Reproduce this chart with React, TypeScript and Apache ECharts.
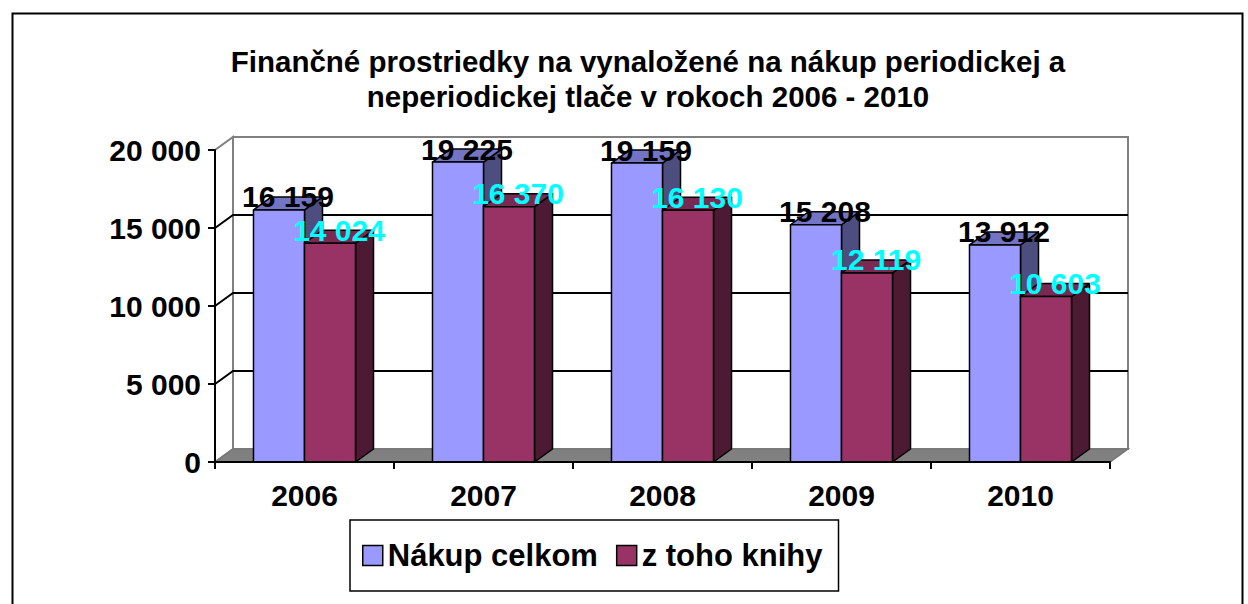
import React, { useEffect, useRef } from "react";
import * as echarts from "echarts";

const categories = ["2006", "2007", "2008", "2009", "2010"];
const nakupCelkom = [16159, 19225, 19159, 15208, 13912];
const zTohoKnihy = [14024, 16370, 16130, 12119, 10603];
const yTicks = [0, 5000, 10000, 15000, 20000];
const seriesNames = ["Nákup celkom", "z toho knihy"];

const FONT = "'Liberation Sans', Arial, sans-serif";
const DX = 18;
const DY = -13;
const BAR_RATIO = 0.285;

const fmt = (n: number) => String(n).replace(/\B(?=(\d{3})+(?!\d))/g, " ");

const palettes = [
  { front: "#9999FF", top: "#7474C4", side: "#4D4D80", label: "#000000" },
  { front: "#993366", top: "#7A2952", side: "#4C1A33", label: "#00FFFF" },
];

function barRender(idx: number) {
  return (params: any, api: any) => {
    const cat = api.value(0);
    const v = api.value(1);
    const [cx, yTop] = api.coord([cat, v]);
    const y0 = api.coord([cat, 0])[1];
    const bw = api.size([1, 0])[0] * BAR_RATIO;
    const x0 = idx === 0 ? cx - bw : cx;
    const x1 = x0 + bw;
    const p = palettes[idx];
    const st = (fill: string) => ({ fill, stroke: "#000", lineWidth: 1.5, lineJoin: "round" });
    return {
      type: "group",
      children: [
        { type: "polygon", shape: { points: [[x1, yTop], [x1 + DX, yTop + DY], [x1 + DX, y0 + DY], [x1, y0]] }, style: st(p.side) },
        { type: "polygon", shape: { points: [[x0, yTop], [x0 + DX, yTop + DY], [x1 + DX, yTop + DY], [x1, yTop]] }, style: st(p.top) },
        { type: "rect", shape: { x: x0, y: yTop, width: bw, height: y0 - yTop }, style: st(p.front) },
      ],
    };
  };
}

function labelRender(idx: number) {
  return (params: any, api: any) => {
    const cat = api.value(0);
    const v = api.value(1);
    const [cx, yTop] = api.coord([cat, v]);
    const bw = api.size([1, 0])[0] * BAR_RATIO;
    const xc = (idx === 0 ? cx - bw / 2 : cx + bw / 2) + DX / 2;
    return {
      type: "text",
      x: xc,
      y: yTop + DY,
      style: {
        text: fmt(v),
        fill: palettes[idx].label,
        font: `bold 30px ${FONT}`,
        align: "center",
        verticalAlign: "middle",
      },
    };
  };
}

function wallsRender(params: any, api: any) {
  const cs = params.coordSys;
  const left = cs.x;
  const right = cs.x + cs.width;
  const top = cs.y;
  const bottom = cs.y + cs.height;
  const gray = "#808080";
  const children: any[] = [
    {
      type: "rect",
      shape: { x: left + DX, y: top + DY, width: right - left, height: bottom - top },
      style: { fill: "#fff", stroke: gray, lineWidth: 2 },
    },
    {
      type: "polygon",
      shape: { points: [[left, top], [left + DX, top + DY], [left + DX, bottom + DY], [left, bottom]] },
      style: { fill: "#fff", stroke: gray, lineWidth: 2 },
    },
  ];
  yTicks.forEach((t) => {
    if (t === 0 || t === yTicks[yTicks.length - 1]) return;
    const y = api.coord([0, t])[1];
    children.push({
      type: "polyline",
      shape: { points: [[left, y], [left + DX, y + DY], [right + DX, y + DY]] },
      style: { stroke: "#000", lineWidth: 2, fill: "none" },
    });
  });
  children.push({
    type: "polygon",
    shape: { points: [[left, bottom], [left + DX, bottom + DY], [right + DX, bottom + DY], [right, bottom]] },
    style: { fill: gray, stroke: "#777", lineWidth: 1.5 },
  });
  return { type: "group", children };
}

export default function App() {
  const ref = useRef<HTMLDivElement>(null);
  useEffect(() => {
    if (!ref.current) return;
    const chart = echarts.init(ref.current, undefined, { renderer: "svg" });
    const d1 = nakupCelkom.map((v, i) => [i, v]);
    const d2 = zTohoKnihy.map((v, i) => [i, v]);
    chart.setOption({
      animation: false,
      backgroundColor: "#fff",
      title: {
        text: "Finančné prostriedky na vynaložené na nákup periodickej a\nneperiodickej tlače v rokoch 2006 - 2010",
        left: 648,
        top: 44,
        padding: 0,
        textAlign: "center",
        textStyle: { fontFamily: FONT, fontSize: 29.5, fontWeight: "bold", color: "#000", lineHeight: 35 },
      },
      graphic: [
        {
          type: "rect",
          left: 10,
          top: 11,
          shape: { width: 1230, height: 620 },
          style: { fill: "none", stroke: "#000", lineWidth: 2 },
          silent: true,
        },
      ],
      legend: {
        left: 350,
        top: 520,
        orient: "horizontal",
        padding: [20, 16, 20, 12],
        borderColor: "#000",
        borderWidth: 1.5,
        itemWidth: 20,
        itemHeight: 20,
        itemGap: 18,
        textStyle: { fontFamily: FONT, fontSize: 31, fontWeight: "bold", color: "#000" },
        data: [
          { name: seriesNames[0], icon: "rect", itemStyle: { color: palettes[0].front, borderColor: "#000", borderWidth: 1.5 } },
          { name: seriesNames[1], icon: "rect", itemStyle: { color: palettes[1].front, borderColor: "#000", borderWidth: 1.5 } },
        ],
      },
      grid: { left: 215, right: 138, top: 150, bottom: 142 },
      xAxis: {
        type: "category",
        data: categories,
        boundaryGap: true,
        z: 10,
        axisLine: { show: true, lineStyle: { color: "#000", width: 2 } },
        axisTick: { show: true, length: 7, lineStyle: { color: "#000", width: 2 } },
        axisLabel: { margin: 18, fontFamily: FONT, fontSize: 30, fontWeight: "bold", color: "#000" },
        splitLine: { show: false },
      },
      yAxis: {
        type: "value",
        min: 0,
        max: 20000,
        interval: 5000,
        z: 10,
        axisLine: { show: true, lineStyle: { color: "#000", width: 2 } },
        axisTick: { show: true, length: 7, lineStyle: { color: "#000", width: 2 } },
        axisLabel: { margin: 14, fontFamily: FONT, fontSize: 30, fontWeight: "bold", color: "#000", formatter: (v: number) => fmt(v) },
        splitLine: { show: false },
      },
      series: [
        { type: "custom", name: "walls", data: [[0, 0]], renderItem: wallsRender, silent: true, z: 1 },
        { type: "custom", name: seriesNames[0], data: d1, renderItem: barRender(0), itemStyle: { color: palettes[0].front }, z: 2 },
        { type: "custom", name: seriesNames[1], data: d2, renderItem: barRender(1), itemStyle: { color: palettes[1].front }, z: 3 },
        { type: "custom", name: "labels1", data: d1, renderItem: labelRender(0), silent: true, z: 4 },
        { type: "custom", name: "labels2", data: d2, renderItem: labelRender(1), silent: true, z: 5 },
      ],
    });
    return () => chart.dispose();
  }, []);
  return <div ref={ref} style={{ position: "fixed", left: 0, top: 0, width: 1248, height: 604 }} />;
}
